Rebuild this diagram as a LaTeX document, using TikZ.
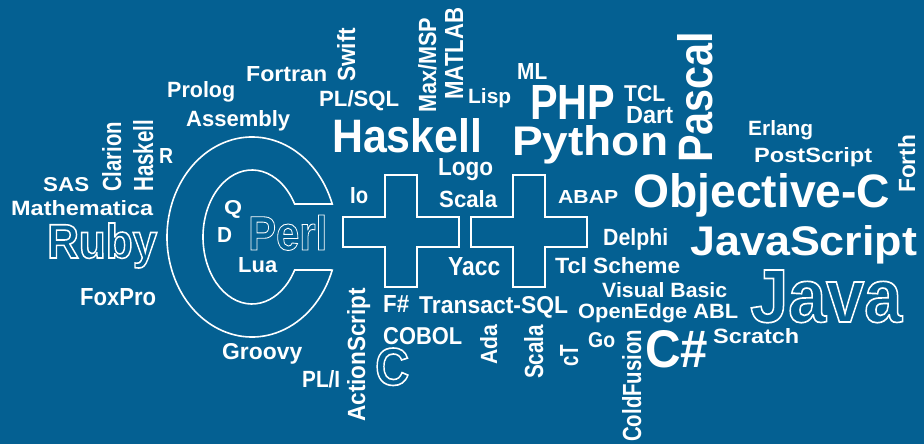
\documentclass[tikz,border=0pt]{standalone}
\usepackage{fontspec}
\setmainfont{Liberation Sans}
\usepackage{graphicx}
\usetikzlibrary{calc}
\definecolor{bgblue}{RGB}{4,96,146}
\newcommand{\fitword}[3]{\resizebox{#1pt}{#2pt}{#3}}
% outlined word: stroke only (text render mode 1)
\newcommand{\outword}[5]{\resizebox{#1pt}{#2pt}{\fontsize{#3}{#3}\selectfont
  \special{pdf:literal direct 1 1 1 RG #4 w 1 Tr}#5\special{pdf:literal direct 0 Tr}}}

\begin{document}
\begin{tikzpicture}[x=1pt,y=-1pt,
  word/.style={text=white, font=\bfseries, inner sep=0pt, anchor=base west},
  upword/.style={word, rotate=90},
  outline/.style={draw=white, line width=1.6pt}]
% background
\fill[bgblue] (0,0) rectangle (924,444);
\useasboundingbox (0,0) rectangle (924,444);

% big C and the two plus signs
\coordinate (bigC) at (252,237);
\draw[outline] ($(bigC)+(-19.3:85 and 100)$) arc[start angle=-19.3, end angle=-340.7, x radius=85, y radius=100]
  -- ($(bigC)+(29.5:49 and 67)$) arc[start angle=29.5, end angle=330.5, x radius=49, y radius=67] -- cycle;
\foreach \cx in {401,529} {
  \draw[outline] (\cx,232) ++(-16,-57) -- ++(32,0) -- ++(0,42) -- ++(42,0) -- ++(0,30) -- ++(-42,0)
    -- ++(0,40) -- ++(-32,0) -- ++(0,-40) -- ++(-42,0) -- ++(0,-30) -- ++(42,0) -- cycle;
}

% left side
\node[word] (fortran) at (246,82) {\fitword{81}{15}{Fortran}};
\node[word] (prolog) at (167,97.5) {\fitword{68}{16}{Prolog}};
\node[word] (assembly) at (186,126) {\fitword{104}{16}{Assembly}};
\node[upword] (clarion) at (121,192) {\fitword{70}{19}{Clarion}};
\node[upword] (haskellv) at (153,192) {\fitword{72}{20}{Haskell}};
\node[word] (r) at (159,163) {\fitword{14}{15}{R}};
\node[word] (sas) at (43,191) {\fitword{46}{14}{SAS}};
\node[word] (mathematica) at (11,215) {\fitword{142}{15}{Mathematica}};
\node[word] (ruby) at (47,258) {\outword{110}{35}{49}{1.6}{Ruby}};
\node[word] (foxpro) at (80,305) {\fitword{76}{17}{FoxPro}};

% inside the C
\node[word] (q) at (224,214) {\fitword{18}{14}{Q}};
\node[word] (d) at (217,242) {\fitword{15}{15}{D}};
\node[word] (perl) at (248,250) {\outword{79}{35}{49}{0.9}{Perl}};
\node[word] (lua) at (238,272) {\fitword{39}{15}{Lua}};
\node[word] (groovy) at (222,359) {\fitword{80}{16}{Groovy}};
\node[word] (pli) at (302,387) {\fitword{38}{17}{PL/I}};

% top middle
\node[upword] (swift) at (355,82) {\fitword{54}{18}{Swift}};
\node[word] (plsql) at (319,106) {\fitword{80}{16}{PL/SQL}};
\node[upword] (maxmsp) at (436,113) {\fitword{95}{18}{Max/MSP}};
\node[upword] (matlab) at (463,100) {\fitword{92}{18}{MATLAB}};
\node[word] (lisp) at (468,103) {\fitword{43}{15}{Lisp}};
\node[word] (ml) at (517,79) {\fitword{30}{16}{ML}};
\node[word] (php) at (530,119) {\fitword{85}{34}{PHP}};
\node[word] (haskell) at (332,152) {\fitword{150}{34}{Haskell}};
\node[word] (python) at (512,155) {\fitword{156}{30}{Python}};
\node[word] (logo) at (438,175) {\fitword{55}{17}{Logo}};
\node[word] (io) at (350,203) {\fitword{18}{16}{Io}};
\node[word] (scala) at (439,207) {\fitword{58}{17}{Scala}};
\node[word] (abap) at (558,203) {\fitword{60}{13}{ABAP}};

% bottom middle
\node[word] (yacc) at (448,275) {\fitword{52}{18}{Yacc}};
\node[word] (tcllow) at (555,273) {\fitword{32}{16}{Tcl}};
\node[upword] (actionscript) at (365,422) {\fitword{134}{18}{ActionScript}};
\node[word] (fsharp) at (383,312) {\fitword{26}{17}{F\#}};
\node[word] (transactsql) at (419,313) {\fitword{149}{17}{Transact-SQL}};
\node[word] (cobol) at (383,344) {\fitword{79}{17}{COBOL}};
\node[word] (cout) at (375,385) {\outword{34}{37}{52}{1.6}{C}};
\node[upword] (ada) at (497,365) {\fitword{40}{17}{Ada}};
\node[upword] (scalav) at (543,379) {\fitword{54}{19}{Scala}};
\node[upword] (ct) at (578,367) {\fitword{22}{18}{cT}};
\node[word] (go) at (588,347) {\fitword{27}{15}{Go}};
\node[upword] (coldfusion) at (641,442) {\fitword{112}{19}{ColdFusion}};

% right side
\node[word] (tcl) at (624,102) {\fitword{41}{16}{TCL}};
\node[word] (dart) at (626,124) {\fitword{47}{17}{Dart}};
\node[upword] (pascal) at (712,163) {\fitword{131}{35}{Pascal}};
\node[word] (erlang) at (748,135) {\fitword{65}{15}{Erlang}};
\node[word] (postscript) at (754,162) {\fitword{118}{15}{PostScript}};
\node[upword] (forth) at (915,193) {\fitword{58}{17}{Forth}};
\node[word] (objc) at (633,207) {\fitword{257}{34}{Objective-C}};
\node[word] (delphi) at (603,245) {\fitword{65}{17}{Delphi}};
\node[word] (javascript) at (690,255) {\fitword{227}{30}{JavaScript}};
\node[word] (scheme) at (593,273) {\fitword{87}{16}{Scheme}};
\node[word] (visualbasic) at (602,297) {\fitword{125}{15}{Visual Basic}};
\node[word] (openedge) at (578,318) {\fitword{160}{15}{OpenEdge ABL}};
\node[word] (java) at (750,322) {\outword{152}{52}{72}{1.6}{Java}};
\node[word] (csharp) at (645,367) {\fitword{63}{37}{C\#}};
\node[word] (scratch) at (713,343) {\fitword{86}{15}{Scratch}};
\end{tikzpicture}
\end{document}
